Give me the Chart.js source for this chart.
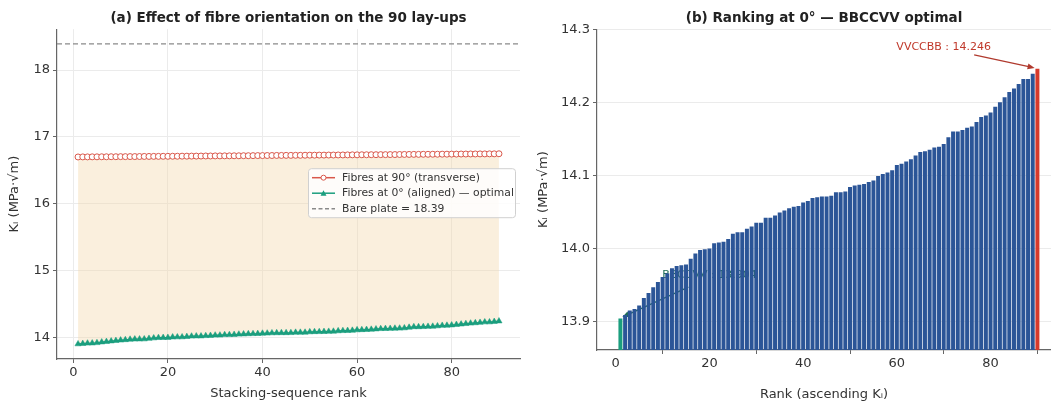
<!DOCTYPE html>
<html>
<head>
<meta charset="utf-8">
<script src="https://cdn.jsdelivr.net/npm/chart.js@4/dist/chart.umd.min.js"></script>
<style>
  body { margin: 0; background: #fff; }
  #wrap { position: relative; width: 1051px; height: 405px; overflow: hidden; }
  .box { position: absolute; top: 0; height: 405px; }
</style>
</head>
<body>
<div id="wrap">
  <div class="box" style="left:0;width:530px"><canvas id="left"></canvas></div>
  <div class="box" style="left:530px;width:521px"><canvas id="right"></canvas></div>
</div>
<script>
// K_I at 0 deg, sorted ascending (rank 1..90)
const k0 = [
  13.904, 13.909, 13.915, 13.917, 13.922, 13.932, 13.939, 13.947, 13.954, 13.961,
  13.966, 13.973, 13.976, 13.977, 13.978, 13.986, 13.993, 13.998, 13.999, 14.000,
  14.007, 14.008, 14.009, 14.013, 14.020, 14.022, 14.022, 14.027, 14.030, 14.035,
  14.035, 14.042, 14.042, 14.045, 14.049, 14.052, 14.055, 14.057, 14.058, 14.063,
  14.065, 14.069, 14.070, 14.071, 14.071, 14.072, 14.077, 14.077, 14.078, 14.084,
  14.086, 14.087, 14.088, 14.091, 14.093, 14.099, 14.102, 14.104, 14.107, 14.114,
  14.116, 14.119, 14.122, 14.127, 14.132, 14.133, 14.135, 14.138, 14.139, 14.143,
  14.152, 14.160, 14.160, 14.162, 14.165, 14.167, 14.173, 14.180, 14.182, 14.186,
  14.194, 14.200, 14.207, 14.214, 14.219, 14.225, 14.232, 14.232, 14.239, 14.246
];
// K_I at 90 deg, same ranking
const k90 = [
  16.700, 16.701, 16.701, 16.702, 16.702, 16.703, 16.703, 16.704, 16.704, 16.705,
  16.705, 16.706, 16.706, 16.707, 16.708, 16.708, 16.709, 16.709, 16.710, 16.710,
  16.711, 16.711, 16.712, 16.712, 16.713, 16.713, 16.714, 16.715, 16.715, 16.716,
  16.716, 16.717, 16.717, 16.718, 16.718, 16.719, 16.719, 16.720, 16.721, 16.721,
  16.722, 16.722, 16.723, 16.723, 16.724, 16.724, 16.725, 16.725, 16.726, 16.727,
  16.727, 16.728, 16.728, 16.729, 16.729, 16.730, 16.730, 16.731, 16.732, 16.732,
  16.733, 16.733, 16.734, 16.734, 16.735, 16.735, 16.736, 16.736, 16.737, 16.738,
  16.738, 16.739, 16.739, 16.740, 16.740, 16.741, 16.741, 16.742, 16.742, 16.743,
  16.743, 16.744, 16.744, 16.745, 16.745, 16.746, 16.746, 16.747, 16.747, 16.748
];
const ranks = k0.map((v, i) => i + 1);
const BARE_PLATE = 18.39;
const xTicks = [0, 20, 40, 60, 80];
const leftYTicks = [14, 15, 16, 17, 18];
const rightYTicks = [13.9, 14.0, 14.1, 14.2, 14.3];
const worst = { name: 'BBCCVV', value: 13.904 };
const best = { name: 'VVCCBB', value: 14.246 };

const RED = '#d9574a';
const GREEN = '#1b9e7e';
const BLUE = '#2b5597';
const FONT = 'DejaVu Sans';
const tickFont = { family: FONT, size: 13 };

function setTicks(list) {
  return s => { s.ticks = list.map(v => ({ value: v })); };
}

// dashed bare-plate reference line
const bareLine = {
  id: 'bareLine',
  beforeDatasetsDraw(chart) {
    const { ctx, chartArea: a, scales } = chart;
    const y = scales.y.getPixelForValue(BARE_PLATE);
    ctx.save();
    ctx.strokeStyle = '#8a8a8a';
    ctx.lineWidth = 1.2;
    ctx.setLineDash([5, 3]);
    ctx.beginPath();
    ctx.moveTo(a.left, y);
    ctx.lineTo(a.right, y);
    ctx.stroke();
    ctx.restore();
  }
};

// legend box like matplotlib
const legendBox = {
  id: 'legendBox',
  afterDraw(chart) {
    const { ctx, chartArea: a } = chart;
    const w = 207, h = 49;
    const x0 = a.right - w - 5, y0 = a.top + 139;
    ctx.save();
    ctx.fillStyle = 'rgba(255,255,255,0.85)';
    ctx.strokeStyle = '#d0d0d0';
    ctx.lineWidth = 1;
    ctx.beginPath();
    ctx.roundRect(x0 + 0.5, y0 + 0.5, w, h, 3);
    ctx.fill();
    ctx.stroke();
    const rows = [
      { text: 'Fibres at 90° (transverse)', color: RED, mark: 'circle' },
      { text: 'Fibres at 0° (aligned) — optimal', color: GREEN, mark: 'tri' },
      { text: 'Bare plate = ' + BARE_PLATE.toFixed(2), color: '#8a8a8a', mark: 'dash' }
    ];
    ctx.font = '10.8px ' + FONT;
    ctx.textBaseline = 'middle';
    rows.forEach((r, i) => {
      const y = y0 + 9.5 + i * 15.5;
      ctx.strokeStyle = r.color;
      ctx.lineWidth = 1.5;
      ctx.setLineDash(r.mark === 'dash' ? [4, 2.5] : []);
      ctx.beginPath();
      ctx.moveTo(x0 + 4, y);
      ctx.lineTo(x0 + 27, y);
      ctx.stroke();
      ctx.setLineDash([]);
      if (r.mark === 'circle') {
        ctx.fillStyle = '#fff';
        ctx.lineWidth = 1;
        ctx.beginPath();
        ctx.arc(x0 + 15.5, y, 2.5, 0, Math.PI * 2);
        ctx.fill();
        ctx.stroke();
      } else if (r.mark === 'tri') {
        ctx.fillStyle = r.color;
        ctx.beginPath();
        ctx.moveTo(x0 + 15.5, y - 3);
        ctx.lineTo(x0 + 18.5, y + 2.5);
        ctx.lineTo(x0 + 12.5, y + 2.5);
        ctx.closePath();
        ctx.fill();
      }
      ctx.fillStyle = '#333';
      ctx.fillText(r.text, x0 + 34, y);
    });
    ctx.restore();
  }
};

function arrow(ctx, x1, y1, x2, y2, color) {
  const ang = Math.atan2(y2 - y1, x2 - x1);
  ctx.strokeStyle = color;
  ctx.fillStyle = color;
  ctx.lineWidth = 1.3;
  ctx.beginPath();
  ctx.moveTo(x1, y1);
  ctx.lineTo(x2 - 6 * Math.cos(ang), y2 - 6 * Math.sin(ang));
  ctx.stroke();
  ctx.beginPath();
  ctx.moveTo(x2, y2);
  ctx.lineTo(x2 - 7 * Math.cos(ang) + 3 * Math.sin(ang), y2 - 7 * Math.sin(ang) - 3 * Math.cos(ang));
  ctx.lineTo(x2 - 7 * Math.cos(ang) - 3 * Math.sin(ang), y2 - 7 * Math.sin(ang) + 3 * Math.cos(ang));
  ctx.closePath();
  ctx.fill();
}

// annotations on the ranking chart; the low one sits behind the bars
const annotations = {
  id: 'annotations',
  beforeDatasetsDraw(chart) {
    const { ctx, scales: { x, y } } = chart;
    ctx.save();
    ctx.font = '11px ' + FONT;
    ctx.textAlign = 'center';
    ctx.textBaseline = 'middle';
    ctx.fillStyle = '#1e6e55';
    ctx.fillText(worst.name + ' : ' + worst.value.toFixed(3), x.getPixelForValue(20), y.getPixelForValue(13.963));
    arrow(ctx, x.getPixelForValue(15.5), y.getPixelForValue(13.947),
      x.getPixelForValue(1.4), y.getPixelForValue(worst.value + 0.002), '#1e6e55');
    ctx.restore();
  },
  afterDatasetsDraw(chart) {
    const { ctx, scales: { x, y } } = chart;
    ctx.save();
    ctx.font = '11px ' + FONT;
    ctx.textAlign = 'center';
    ctx.textBaseline = 'middle';
    ctx.fillStyle = '#c0392b';
    ctx.fillText(best.name + ' : ' + best.value.toFixed(3), x.getPixelForValue(70), y.getPixelForValue(14.275));
    arrow(ctx, x.getPixelForValue(76.5), y.getPixelForValue(14.265),
      x.getPixelForValue(89.4), y.getPixelForValue(best.value + 0.001), '#b03a2e');
    ctx.restore();
  }
};

new Chart(document.getElementById('left'), {
  type: 'line',
  data: {
    datasets: [
      {
        label: 'Fibres at 90° (transverse)',
        data: ranks.map((r, i) => ({ x: r, y: k90[i] })),
        borderColor: RED,
        borderWidth: 1.3,
        pointStyle: 'circle',
        pointRadius: 3,
        pointBorderWidth: 1,
        pointBackgroundColor: '#fff',
        pointBorderColor: RED,
        fill: false
      },
      {
        label: 'Fibres at 0° (aligned) — optimal',
        data: ranks.map((r, i) => ({ x: r, y: k0[i] })),
        borderColor: GREEN,
        borderWidth: 1.3,
        pointStyle: 'triangle',
        pointRadius: 3.6,
        pointBorderWidth: 0.5,
        pointBackgroundColor: GREEN,
        pointBorderColor: GREEN,
        fill: { target: 0 },
        backgroundColor: 'rgba(243, 218, 175, 0.42)'
      }
    ]
  },
  options: {
    responsive: true,
    maintainAspectRatio: false,
    animation: false,
    layout: { padding: { left: 0, right: 10, top: 0, bottom: 0 } },
    plugins: {
      legend: { display: false },
      tooltip: { enabled: false },
      title: {
        display: true,
        fullSize: false,
        text: '(a) Effect of fibre orientation on the 90 lay-ups',
        font: { family: FONT, size: 13.5, weight: 'bold' },
        color: '#222',
        padding: { top: 10, bottom: 3 }
      }
    },
    scales: {
      x: {
        type: 'linear',
        min: -3.45,
        max: 94.45,
        afterBuildTicks: setTicks(xTicks),
        afterFit: s => { s.height = 46; },
        ticks: { font: tickFont, color: '#333', padding: 2, maxRotation: 0 },
        grid: { color: '#ebebeb', tickColor: '#666', tickLength: 4 },
        border: { color: '#666', width: 1.2 },
        title: { display: true, text: 'Stacking-sequence rank', font: tickFont, color: '#333', padding: { top: 0 } }
      },
      y: {
        min: 13.68,
        max: 18.61,
        afterBuildTicks: setTicks(leftYTicks),
        afterFit: s => { s.width = 57; },
        ticks: { font: tickFont, color: '#333', padding: 3 },
        grid: { color: '#ebebeb', tickColor: '#666', tickLength: 4 },
        border: { color: '#666', width: 1.2 },
        title: { display: true, text: 'Kᵢ (MPa·√m)', font: tickFont, color: '#333', padding: { top: 7, bottom: 0 } }
      }
    }
  },
  plugins: [bareLine, legendBox]
});

new Chart(document.getElementById('right'), {
  type: 'bar',
  data: {
    datasets: [{
      data: ranks.map((r, i) => ({ x: r, y: k0[i] })),
      backgroundColor: k0.map((v, i) => i === 0 ? GREEN : (i === k0.length - 1 ? '#d63a2b' : BLUE)),
      borderWidth: 0,
      barPercentage: 1,
      categoryPercentage: 0.85
    }]
  },
  options: {
    responsive: true,
    maintainAspectRatio: false,
    animation: false,
    layout: { padding: { left: 0, right: 0, top: 0, bottom: 0 } },
    plugins: {
      legend: { display: false },
      tooltip: { enabled: false },
      title: {
        display: true,
        fullSize: false,
        text: '(b) Ranking at 0° — BBCCVV optimal',
        font: { family: FONT, size: 13.5, weight: 'bold' },
        color: '#222',
        padding: { top: 10, bottom: 3 }
      }
    },
    scales: {
      x: {
        type: 'linear',
        min: -4,
        max: 92.9,
        offset: false,
        afterBuildTicks: setTicks(xTicks),
        afterFit: s => { s.height = 55; },
        ticks: { font: tickFont, color: '#333', padding: 2, maxRotation: 0 },
        grid: { drawOnChartArea: false, tickColor: '#666', tickLength: 4 },
        border: { color: '#666', width: 1.2 },
        title: { display: true, text: 'Rank (ascending Kᵢ)', font: tickFont, color: '#333', padding: { top: 0, bottom: 3 } }
      },
      y: {
        min: 13.861,
        max: 14.3,
        afterBuildTicks: setTicks(rightYTicks),
        afterFit: s => { s.width = 67; },
        ticks: { font: tickFont, color: '#333', padding: 3, callback: v => v.toFixed(1) },
        grid: { color: '#ebebeb', tickColor: '#666', tickLength: 4 },
        border: { color: '#666', width: 1.2 },
        title: { display: true, text: 'Kᵢ (MPa·√m)', font: tickFont, color: '#333', padding: { top: 6, bottom: 0 } }
      }
    }
  },
  plugins: [annotations]
});
</script>
</body>
</html>
